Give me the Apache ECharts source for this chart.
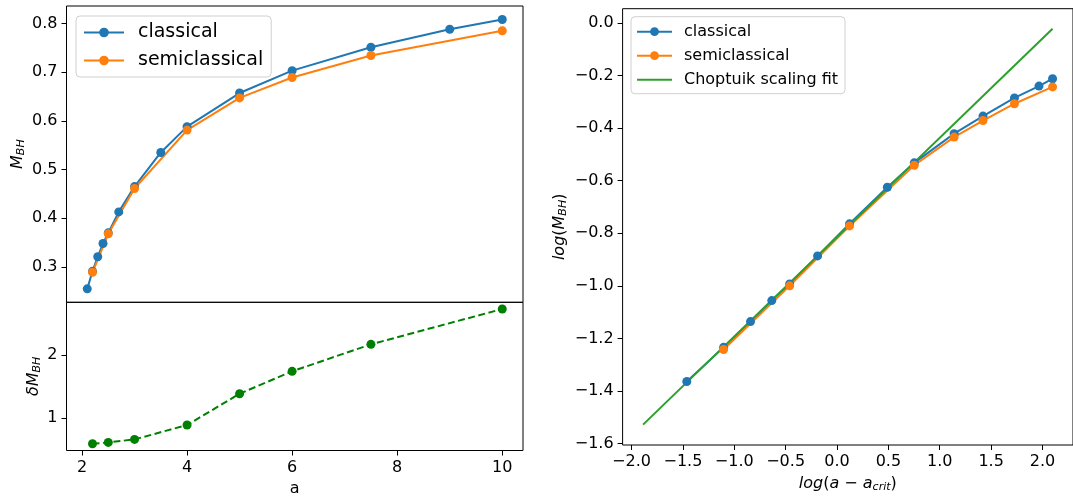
<!DOCTYPE html>
<html>
<head>
<meta charset="utf-8">
<script src="https://cdn.jsdelivr.net/npm/echarts@6/dist/echarts.min.js"></script>
<style>
  html, body { margin: 0; padding: 0; background: #fff; }
  #main { width: 1073px; height: 498px; }
</style>
</head>
<body>
<div id="main"></div>
<script>
// left panel: M_BH against a
var aClassical = [2.1, 2.2, 2.3, 2.4, 2.5, 2.7, 3.0, 3.5, 4.0, 5.0, 6.0, 7.5, 9.0, 10.0];
var mClassical = [0.255, 0.291, 0.321, 0.348, 0.370, 0.413, 0.465, 0.535, 0.588, 0.657, 0.703, 0.751, 0.788, 0.808];
var aSemi = [2.2, 2.5, 3.0, 4.0, 5.0, 6.0, 7.5, 10.0];
var mSemi = [0.289, 0.368, 0.461, 0.581, 0.647, 0.689, 0.734, 0.785];
var deltaM = [0.585, 0.607, 0.655, 0.884, 1.383, 1.740, 2.171, 2.734];

// right panel: log-log
var logXClassical = [-1.462, -1.104, -0.842, -0.635, -0.461, -0.189, 0.122, 0.490, 0.752, 1.140, 1.421, 1.727, 1.966, 2.098];
var logMClassical = [-1.364, -1.234, -1.136, -1.056, -0.993, -0.886, -0.764, -0.625, -0.532, -0.421, -0.354, -0.285, -0.240, -0.212];
var logXSemi = [-1.104, -0.461, 0.122, 0.752, 1.140, 1.421, 1.727, 2.098];
var logMSemi = [-1.242, -1.000, -0.772, -0.541, -0.434, -0.371, -0.307, -0.243];
var fitX = [-1.888, 2.098];
var fitY = [-1.528, -0.022];

// tick labels
var aTicks = [2, 4, 6, 8, 10];
var mTicks = [0.3, 0.4, 0.5, 0.6, 0.7, 0.8];
var dmTicks = [1, 2];
var logXTicks = [-2.0, -1.5, -1.0, -0.5, 0.0, 0.5, 1.0, 1.5, 2.0];
var logMTicks = [-1.6, -1.4, -1.2, -1.0, -0.8, -0.6, -0.4, -0.2, 0.0];

function pairs(xs, ys) {
    return xs.map(function (x, i) { return [x, ys[i]]; });
}
function minus(v, d) {
    return v.toFixed(d).replace('-', '\u2212');
}

var FONT = 'DejaVu Sans';
var BLUE = '#1f77b4', ORANGE = '#ff7f0e', GREEN = '#2ca02c';

var tickStyle = { show: true, length: 5, inside: false, lineStyle: { color: '#000', width: 1 } };
var labelBase = { color: '#000', fontFamily: FONT, fontSize: 16, margin: 9 };
var nameRich = {
    i: { fontFamily: FONT, fontSize: 16, fontStyle: 'italic', color: '#000' },
    n: { fontFamily: FONT, fontSize: 16, color: '#000' },
    sub: { fontFamily: FONT, fontSize: 11, fontStyle: 'italic', color: '#000', padding: [7, 0, 0, 0] }
};

function valueAxis(idx, min, max, ticks, fmt, extra) {
    var ax = {
        type: 'value', gridIndex: idx, min: min, max: max,
        splitLine: { show: false },
        axisLine: { show: false, onZero: false },
        axisTick: Object.assign({}, tickStyle, { customValues: ticks }),
        axisLabel: Object.assign({}, labelBase, { customValues: ticks, formatter: fmt })
    };
    return Object.assign(ax, extra || {});
}

var dom = document.getElementById('main');
var myChart = echarts.init(dom, null, { renderer: 'canvas' });

var gridBox = { show: true, borderColor: '#000', borderWidth: 1, backgroundColor: 'transparent' };
var fitIcon = 'path://M0,0L35,0L35,2L0,2Z';

option = {
    animation: false,
    grid: [
        Object.assign({ left: 66.5, top: 6, width: 456.5, height: 296.3 }, gridBox),
        Object.assign({ left: 66.5, top: 302.3, width: 456.5, height: 148.2 }, gridBox),
        Object.assign({ left: 622.6, top: 8.7, width: 454, height: 440.7 }, gridBox)
    ],
    xAxis: [
        { type: 'value', gridIndex: 0, min: 1.705, max: 10.395, splitLine: { show: false },
          axisLine: { show: false, onZero: false }, axisTick: { show: false }, axisLabel: { show: false } },
        valueAxis(1, 1.705, 10.395, aTicks, function (v) { return String(v); },
            { name: 'a', nameLocation: 'middle', nameGap: 30,
              nameTextStyle: { fontFamily: FONT, fontSize: 16, color: '#000' } }),
        valueAxis(2, -2.087, 2.297, logXTicks, function (v) { return minus(v, 1); },
            { name: '{i|log}{n|(}{i|a}{n| \u2212 }{i|a}{sub|crit}{n|)}', nameLocation: 'middle', nameGap: 30,
              nameTextStyle: { rich: nameRich } })
    ],
    yAxis: [
        valueAxis(0, 0.2274, 0.8357, mTicks, function (v) { return v.toFixed(1); },
            { name: '{i|M}{sub|BH}', nameLocation: 'middle', nameGap: 40,
              nameTextStyle: { rich: nameRich } }),
        valueAxis(1, 0.478, 2.841, dmTicks, function (v) { return String(v); },
            { name: '{i|\u03b4M}{sub|BH}', nameLocation: 'middle', nameGap: 24,
              nameTextStyle: { rich: nameRich } }),
        valueAxis(2, -1.6055, 0.0545, logMTicks, function (v) { return minus(v, 1); },
            { name: '{i|log}{n|(}{i|M}{sub|BH}{n|)}', nameLocation: 'middle', nameGap: 54,
              nameTextStyle: { rich: nameRich } })
    ],
    legend: [
        {
            orient: 'vertical', left: 76, top: 16,
            data: ['classical', 'semiclassical'],
            itemWidth: 40, itemHeight: 12, itemGap: 9,
            padding: [7, 8, 7, 7],
            borderColor: '#d0d0d0', borderWidth: 1, borderRadius: 4,
            backgroundColor: 'rgba(255,255,255,0.8)',
            textStyle: { fontFamily: FONT, fontSize: 19, lineHeight: 19, color: '#000', padding: [0, 0, 0, 9] },
            selectedMode: false
        },
        {
            orient: 'vertical', left: 631, top: 16.7,
            data: ['classical', 'semiclassical', { name: 'Choptuik scaling fit', icon: fitIcon }],
            itemWidth: 35, itemHeight: 11, itemGap: 8,
            padding: [7, 7, 6, 5],
            borderColor: '#d0d0d0', borderWidth: 1, borderRadius: 4,
            backgroundColor: 'rgba(255,255,255,0.8)',
            textStyle: { fontFamily: FONT, fontSize: 16, lineHeight: 16, color: '#000', padding: [0, 0, 0, 7] },
            selectedMode: false
        }
    ],
    series: [
        {
            name: 'classical', type: 'line', xAxisIndex: 0, yAxisIndex: 0,
            data: pairs(aClassical, mClassical),
            symbol: 'circle', symbolSize: 9,
            lineStyle: { color: BLUE, width: 2 }, itemStyle: { color: BLUE }
        },
        {
            name: 'semiclassical', type: 'line', xAxisIndex: 0, yAxisIndex: 0,
            data: pairs(aSemi, mSemi),
            symbol: 'circle', symbolSize: 9,
            lineStyle: { color: ORANGE, width: 2 }, itemStyle: { color: ORANGE }
        },
        {
            name: 'deltaM', type: 'line', xAxisIndex: 1, yAxisIndex: 1,
            data: pairs(aSemi, deltaM),
            symbol: 'circle', symbolSize: 9,
            lineStyle: { color: '#008000', width: 2, type: [7, 3.5] }, itemStyle: { color: '#008000' }
        },
        {
            name: 'classical', type: 'line', xAxisIndex: 2, yAxisIndex: 2,
            data: pairs(logXClassical, logMClassical),
            symbol: 'circle', symbolSize: 9,
            lineStyle: { color: BLUE, width: 2 }, itemStyle: { color: BLUE }
        },
        {
            name: 'semiclassical', type: 'line', xAxisIndex: 2, yAxisIndex: 2,
            data: pairs(logXSemi, logMSemi),
            symbol: 'circle', symbolSize: 9,
            lineStyle: { color: ORANGE, width: 2 }, itemStyle: { color: ORANGE }
        },
        {
            name: 'Choptuik scaling fit', type: 'line', xAxisIndex: 2, yAxisIndex: 2,
            data: pairs(fitX, fitY),
            symbol: 'none',
            lineStyle: { color: GREEN, width: 2 }, itemStyle: { color: GREEN }
        }
    ]
};
myChart.setOption(option);
window.onresize = myChart.resize;
</script>
</body>
</html>
